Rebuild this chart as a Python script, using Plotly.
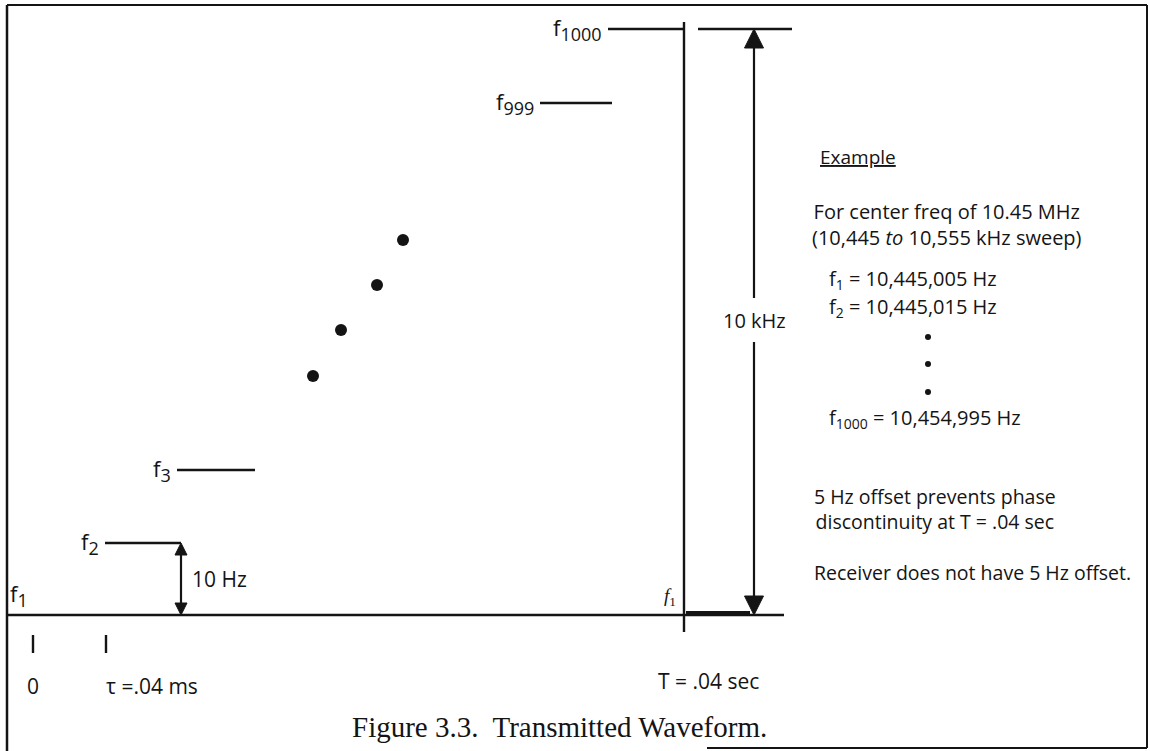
import plotly.graph_objects as go

# ---------------- data (diagram units: x = time position, y = frequency level, drawn top-down) -------------
f1_level = 615
baseline_x = [8, 784]

step_names = ["2", "3", "999", "1000"]
step_x0 = [105, 177, 540, 608]
step_x1 = [181, 255, 612, 684]
step_y = [543, 470, 103, 29]

dots_x = [313, 341, 377, 403]
dots_y = [376, 330, 285, 240]

T_x = 684
T_line_y = [22, 632]
ref_line_x = [698, 792]
span_x = 754
span_gap = [298, 342]
f1_seg_x = [686, 750]

tick_x = [33, 106]
tick_y = [635, 653]
tick_labels = ["0", "τ =.04 ms"]
T_label = "T = .04 sec"

step10_x = 181

example_title = "Example"
example_lines = [
    "For center freq of 10.45 MHz",
    "(10,445 <i>to</i> 10,555 kHz sweep)",
]
freq_lines = [
    "f<sub>1</sub> = 10,445,005 Hz",
    "f<sub>2</sub> = 10,445,015 Hz",
    "f<sub>1000</sub> = 10,454,995 Hz",
]
bullet_y = [337, 364, 392]
note_lines = [
    "5 Hz offset prevents phase",
    "discontinuity at T = .04 sec",
    "Receiver does not have 5 Hz offset.",
]
caption = "Figure 3.3.  Transmitted Waveform."

# ---------------- styles ----------------
INK = "#141414"
SANS = "Open Sans"
SERIF = "Liberation Serif"

fig = go.Figure()

def seg_trace(segs, width):
    xs, ys = [], []
    for (xa, ya, xb, yb) in segs:
        xs += [xa, xb, None]
        ys += [ya, yb, None]
    fig.add_trace(go.Scatter(x=xs, y=ys, mode="lines", line=dict(color=INK, width=width),
                             hoverinfo="skip", showlegend=False))

segs = []
for a, b, y in zip(step_x0, step_x1, step_y):
    segs.append((a, y, b, y))
segs.append((baseline_x[0], f1_level, baseline_x[1], f1_level))
segs.append((T_x, T_line_y[0], T_x, T_line_y[1]))
segs.append((ref_line_x[0], step_y[-1], ref_line_x[1], step_y[-1]))
for tx in tick_x:
    segs.append((tx, tick_y[0], tx, tick_y[1]))
seg_trace(segs, 2.4)

# arrow shafts
seg_trace([
    (step10_x, step_y[0] + 6, step10_x, f1_level - 6),
    (span_x, step_y[-1] + 10, span_x, span_gap[0]),
    (span_x, span_gap[1], span_x, f1_level - 10),
], 2.2)

# arrow heads (tip at the marker position)
fig.add_trace(go.Scatter(
    x=[step10_x, span_x], y=[step_y[0], step_y[-1]], mode="markers",
    marker=dict(symbol="arrow-up", size=[12, 19], color=INK, opacity=1,
                line=dict(width=1, color=INK)),
    hoverinfo="skip", showlegend=False))
fig.add_trace(go.Scatter(
    x=[step10_x, span_x], y=[f1_level, f1_level], mode="markers",
    marker=dict(symbol="arrow-down", size=[12, 19], color=INK, opacity=1,
                line=dict(width=1, color=INK)),
    hoverinfo="skip", showlegend=False))

# thick segment at f1 after T
seg_trace([(f1_seg_x[0], f1_level - 2, f1_seg_x[1], f1_level - 2)], 4)

# intermediate steps as dots
fig.add_trace(go.Scatter(x=dots_x, y=dots_y, mode="markers",
                         marker=dict(color=INK, size=12), hoverinfo="skip", showlegend=False))

# right-hand bullets
fig.add_trace(go.Scatter(x=[928] * len(bullet_y), y=bullet_y, mode="markers",
                         marker=dict(color=INK, size=6), hoverinfo="skip", showlegend=False))

ann = []
def txt(x, y, t, size=20, xa="left", ya="middle", font=SANS):
    ann.append(dict(x=x, y=y, xref="x", yref="y", text=t, showarrow=False,
                    xanchor=xa, yanchor=ya, font=dict(family=font, size=size, color=INK)))

def flabel(n, sub_size=18):
    return "f<sub><span style='font-size:%dpx'>%s</span></sub>" % (sub_size, n)

# step labels
txt(8, f1_level - 1, flabel("1"), size=22, xa="left", ya="bottom")
for n, x0, y in zip(step_names, step_x0, step_y):
    txt(x0 - 4, y, flabel(n), size=22, xa="right", ya="middle")

# arrow labels
txt(step10_x + 9, (step_y[0] + f1_level) / 2, "10 Hz", size=21)
txt(span_x, (span_gap[0] + span_gap[1]) / 2, "10 kHz", size=20, xa="center")

# f1 label at T
txt(T_x - 6, f1_level - 4, "<i>f</i><sub>1</sub>", size=19, xa="right", ya="bottom", font=SERIF)

# time labels
txt(tick_x[0], 686, tick_labels[0], size=21, xa="center")
txt(tick_x[1] - 2, 686, tick_labels[1], size=21, xa="left")
txt(T_x + 24, 681, T_label, size=21, xa="center")

# example block
txt(818, 157, "<u>" + example_title + "</u>", size=19)
txt(810, 224, "<br>".join(example_lines), size=20)
txt(827, 279, freq_lines[0], size=20)
txt(827, 307, freq_lines[1], size=20)
txt(827, 418, freq_lines[2], size=20)
txt(812, 509, "<br>".join(note_lines[:2]), size=19.5)
txt(812, 572, note_lines[2], size=19.5)

# caption
txt(559, 727, caption, size=29, xa="center", font=SERIF)

frame = dict(color=INK, width=2)
fig.update_layout(
    width=1150, height=751,
    margin=dict(l=0, r=0, t=0, b=0),
    paper_bgcolor="white", plot_bgcolor="white",
    xaxis=dict(range=[0, 1150], visible=False, fixedrange=True),
    yaxis=dict(range=[751, 0], visible=False, fixedrange=True),
    annotations=ann,
    shapes=[
        dict(type="line", xref="x", yref="y", x0=7, x1=1147, y0=5, y1=5, line=frame),
        dict(type="line", xref="x", yref="y", x0=7, x1=7, y0=5, y1=751, line=dict(color=INK, width=2.5)),
        dict(type="line", xref="x", yref="y", x0=1147, x1=1147, y0=5, y1=748, line=frame),
        dict(type="line", xref="x", yref="y", x0=707, x1=1147, y0=748, y1=748, line=frame),
    ],
)

fig.write_html("out.html", config={"displayModeBar": False, "staticPlot": True},
               post_script="document.body.style.margin='0';document.body.style.overflow='hidden';")
